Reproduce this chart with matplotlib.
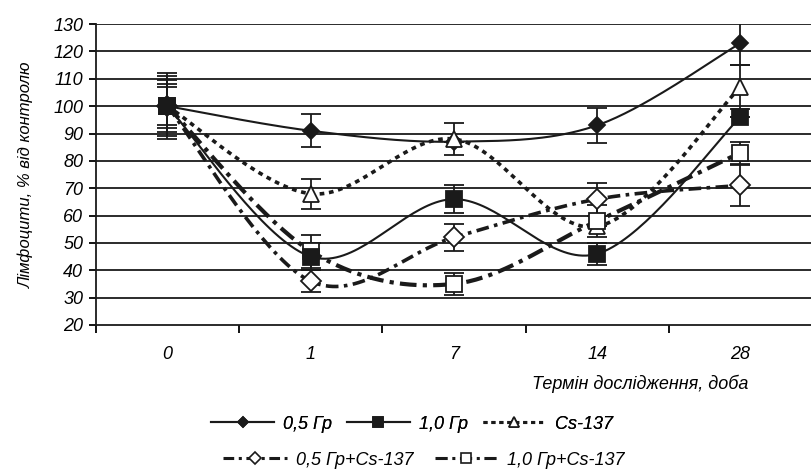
import numpy as np
import matplotlib
matplotlib.use('Agg')
import matplotlib.pyplot as plt
from matplotlib.lines import Line2D

plt.rcParams['font.family'] = ['Liberation Sans Narrow', 'Liberation Sans', 'DejaVu Sans']
plt.rcParams['font.style'] = 'italic'

# дані
terms = ['0', '1', '7', '14', '28']
dose05 = [100, 91, 87, 93, 123]
dose05_err = [8, 6, 0, 6.5, 8]
dose10 = [100, 45, 66, 46, 96]
dose10_err = [12, 5, 5, 4, 0]
cs137 = [100, 68, 88, 56, 107]
cs137_err = [9.5, 5.5, 6, 0, 8]
dose05cs = [100, 36, 52, 66, 71]
dose05cs_err = [7, 4, 5, 6, 7.5]
dose10cs = [100, 47, 35, 58, 83]
dose10cs_err = [11, 6, 4, 6, 4]

names = ['0,5 Гр', '1,0 Гр', 'Cs-137', '0,5 Гр+Cs-137', '1,0 Гр+Cs-137']


def smooth(y, n=40):
    # згладжена лінія як в Excel (Безье через точки)
    x = np.arange(len(y), dtype=float)
    y = np.asarray(y, dtype=float)
    P = np.column_stack([x, y])
    P = np.vstack([P[0], P, P[-1]])
    out = []
    t = np.linspace(0, 1, n)[:, None]
    for i in range(1, len(P) - 2):
        p0, p1 = P[i], P[i + 1]
        c1 = p0 + (P[i + 1] - P[i - 1]) / 6.0
        c2 = p1 - (P[i + 2] - P[i]) / 6.0
        seg = (1 - t) ** 3 * p0 + 3 * (1 - t) ** 2 * t * c1 + 3 * (1 - t) * t ** 2 * c2 + t ** 3 * p1
        out.append(seg)
    out = np.vstack(out)
    return out[:, 0], out[:, 1]


fig = plt.figure(figsize=(8.12, 4.73), dpi=100)
ax = fig.add_axes([0.118, 0.313, 0.882, 0.636])

styles = [
    dict(ls='-', lw=1.5, marker='D', ms=8.5, mfc='#1a1a1a', mec='#1a1a1a'),
    dict(ls='-', lw=1.5, marker='s', ms=12, mfc='#1a1a1a', mec='#1a1a1a'),
    dict(ls=(0, (1.3, 1.3)), lw=2.6, marker='^', ms=12, mfc='white', mec='#1a1a1a'),
    dict(ls=(0, (3.5, 1.5, 1, 1.5)), lw=2.6, marker='D', ms=10, mfc='white', mec='#1a1a1a'),
    dict(ls=(0, (4, 1.5, 1, 1.5)), lw=3.0, marker='s', ms=11.5, mfc='white', mec='#1a1a1a'),
]
series = [dose05, dose10, cs137, dose05cs, dose10cs]
errs = [dose05_err, dose10_err, cs137_err, dose05cs_err, dose10cs_err]
# порядок маркерів зверху: 1,0 Гр над усіма
mz = [5, 9, 6, 7, 8]

x = np.arange(len(terms))
for k, (vals, er, st) in enumerate(zip(series, errs, styles)):
    xs, ys = smooth(vals)
    ax.plot(xs, ys, color='#1a1a1a', ls=st['ls'], lw=st['lw'], zorder=3)
    ax.errorbar(x, vals, yerr=er, fmt='none', ecolor='#1a1a1a', elinewidth=1.3,
                capsize=7, capthick=1.3, zorder=4)
    ax.plot(x, vals, ls='none', marker=st['marker'], ms=st['ms'], mfc=st['mfc'],
            mec=st['mec'], mew=1.3, zorder=mz[k])

ax.set_xlim(-0.5, 4.445)
ax.set_ylim(20, 130)
ax.set_yticks(np.arange(20, 131, 10))
ax.set_xticks(x)
ax.set_xticklabels(terms)
ax.set_xticks(np.arange(-0.5, 4.6, 1), minor=True)
ax.tick_params(axis='x', which='major', length=0, pad=15, labelsize=13)
ax.tick_params(axis='x', which='minor', length=6, width=1.3, direction='out')
ax.tick_params(axis='y', length=5, width=1.3, labelsize=13, pad=4)
for yv in range(30, 131, 10):
    ax.axhline(yv, color='#1a1a1a', lw=1.3, zorder=1)
for s in ['top', 'right']:
    ax.spines[s].set_visible(False)
for s in ['left', 'bottom']:
    ax.spines[s].set_linewidth(1.3)
    ax.spines[s].set_color('#1a1a1a')

ax.set_ylabel('Лімфоцити, % від контролю', fontsize=12, labelpad=14)
fig.text(748 / 812, 1 - 384 / 473, 'Термін дослідження, доба', ha='right', va='center', fontsize=13)

handles = []
for st in styles:
    mk = st['ms'] * 0.65
    handles.append(Line2D([], [], color='#1a1a1a', ls=st['ls'], lw=st['lw'] if st['lw'] < 2 else 2.2,
                          marker=st['marker'], ms=mk, mfc=st['mfc'], mec=st['mec'], mew=1.2))

leg1 = fig.legend(handles[:3], names[:3], loc='center', bbox_to_anchor=(412 / 812, 1 - 424 / 473),
                  ncol=3, frameon=False, fontsize=13, handlelength=3.5, columnspacing=0.8,
                  handletextpad=0.5)
leg2 = fig.legend(handles[3:], names[3:], loc='center', bbox_to_anchor=(424 / 812, 1 - 460 / 473),
                  ncol=2, frameon=False, fontsize=13, handlelength=3.5, columnspacing=1.2,
                  handletextpad=0.5)
fig.add_artist(leg1)

fig.savefig('out.png', dpi=100)
